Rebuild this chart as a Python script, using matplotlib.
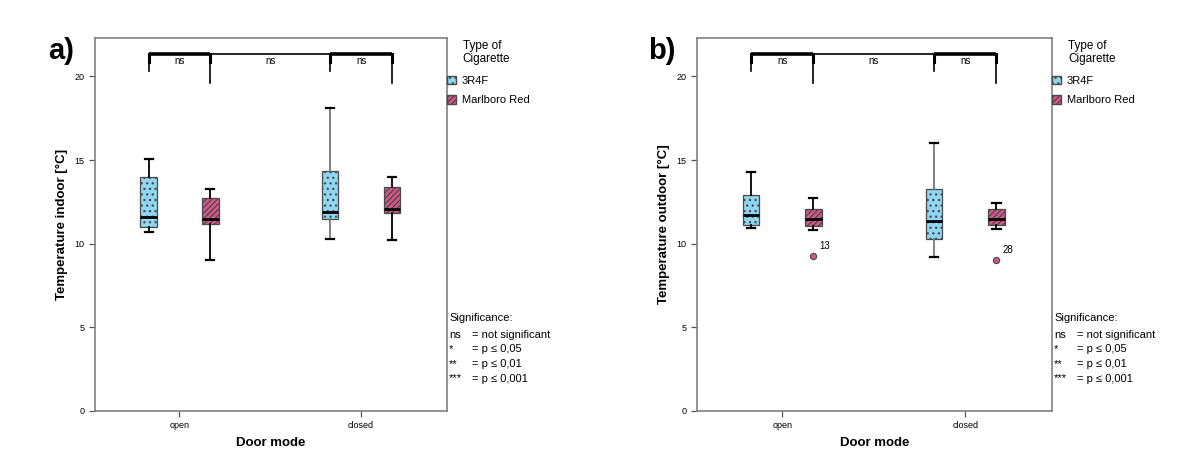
import matplotlib
matplotlib.use("Agg")
import matplotlib.pyplot as plt
from matplotlib.patches import Patch

plt.rcParams['font.family'] = ['Liberation Sans', 'DejaVu Sans']
plt.rcParams['hatch.linewidth'] = 0.9

categories = ["open", "closed"]
series = ["3R4F", "Marlboro Red"]

# [whislo, q1, median, q3, whishi] per series per category
indoor_3r4f = [[10.7, 11.0, 11.6, 14.0, 15.05], [10.3, 11.45, 11.9, 14.35, 18.1]]
indoor_marl = [[9.0, 11.2, 11.45, 12.75, 13.3], [10.2, 11.85, 12.1, 13.4, 14.0]]
outdoor_3r4f = [[10.95, 11.1, 11.7, 12.9, 14.3], [9.2, 10.3, 11.35, 13.3, 16.0]]
outdoor_marl = [[10.85, 11.05, 11.45, 12.05, 12.75], [10.9, 11.15, 11.45, 12.05, 12.45]]
outdoor_marl_outliers = [[9.25], [9.0]]
outdoor_marl_outlier_ids = [["13"], ["28"]]

sig_labels = ["ns", "ns", "ns"]
panel_labels = ["a)", "b)"]
ylabels = ["Temperature indoor [°C]", "Temperature outdoor [°C]"]
yticks = [0, 5, 10, 15, 20]

col_blue = "#8fd6f2"
col_pink = "#d6558a"
edge = "#4a4a4a"

fig = plt.figure(figsize=(12, 4.62), dpi=100)
axes = [fig.add_axes([0.0792, 0.1104, 0.2933, 0.8073]),
        fig.add_axes([0.5808, 0.1104, 0.2958, 0.8073])]

off = 0.17
bw = 0.09

def stats(vals, fl=None):
    lo, q1, med, q3, hi = vals
    return dict(whislo=lo, q1=q1, med=med, q3=q3, whishi=hi, fliers=fl or [])

datasets = [(indoor_3r4f, indoor_marl, None, None),
            (outdoor_3r4f, outdoor_marl, outdoor_marl_outliers, outdoor_marl_outlier_ids)]

for k, ax in enumerate(axes):
    b3, bm, outs, ids = datasets[k]
    for i, cat in enumerate(categories):
        for j, (vals, col, hatch) in enumerate([(b3[i], col_blue, '...'), (bm[i], col_pink, '//////')]):
            pos = i - off if j == 0 else i + off
            fl = outs[i] if (j == 1 and outs is not None) else []
            wcol = '#777777' if (i == 1 and j == 0) else 'black'
            ax.bxp([stats(vals, fl)], positions=[pos], widths=bw, patch_artist=True,
                   showfliers=True,
                   boxprops=dict(facecolor=col, edgecolor=edge, linewidth=0.9, hatch=hatch),
                   medianprops=dict(color='black', linewidth=2.0),
                   whiskerprops=dict(color=wcol, linewidth=1.3),
                   capprops=dict(color='black', linewidth=1.6),
                   flierprops=dict(marker='o', markerfacecolor=col_pink, markeredgecolor=edge,
                                   markersize=4.5, markeredgewidth=0.8))
            if j == 1 and outs is not None:
                for v, lab in zip(outs[i], ids[i]):
                    ax.text(pos + 0.035, v + 0.3, lab, fontsize=7, ha='left', va='bottom')
    ax.set_xlim(-0.465, 1.473)
    ax.set_ylim(0, 22.3)
    ax.set_xticks(range(len(categories)))
    ax.set_xticklabels(categories, fontsize=6.5)
    ax.set_yticks(yticks)
    ax.set_yticklabels([str(t) for t in yticks], fontsize=6.5)
    ax.tick_params(axis='both', direction='out', length=4, color='#555555', width=0.9)
    ax.tick_params(top=False, right=False)
    for s in ax.spines.values():
        s.set_color('#808080')
        s.set_linewidth(1.2)
    ax.set_xlabel("Door mode", fontsize=9.5, fontweight='bold', labelpad=5)
    ax.set_ylabel(ylabels[k], fontsize=9.5, fontweight='bold', labelpad=5)

    # significance brackets
    ytop = 21.35
    p = [-off, off, 1 - off, 1 + off]
    ax.plot([p[0], p[1]], [ytop, ytop], color='black', lw=2.6, solid_capstyle='butt')
    ax.plot([p[1], p[2]], [ytop, ytop], color='black', lw=1.2)
    ax.plot([p[2], p[3]], [ytop, ytop], color='black', lw=2.6, solid_capstyle='butt')
    for x, ylow in [(p[0], 20.35), (p[1], 19.6), (p[2], 20.35), (p[3], 19.6)]:
        ax.plot([x, x], [ylow, ytop], color='black', lw=1.2)
        ax.plot([x, x], [20.85, ytop], color='black', lw=2.2)
    for (xa, xb), lab in zip([(p[0], p[1]), (p[1], p[2]), (p[2], p[3])], sig_labels):
        ax.text((xa + xb) / 2, 20.9, lab, fontsize=7, ha='center', va='center')

    # legend
    ax.text(1.045, 0.96, "Type of\nCigarette", transform=ax.transAxes, fontsize=8.5,
            ha='left', va='center', linespacing=1.1)
    handles = [Patch(facecolor=col_blue, edgecolor=edge, hatch='...', label=series[0]),
               Patch(facecolor=col_pink, edgecolor=edge, hatch='//////', label=series[1])]
    ax.legend(handles=handles, loc='upper left', bbox_to_anchor=(0.995, 0.905),
              frameon=False, fontsize=8, handlelength=0.8, handleheight=0.8,
              handletextpad=0.5, borderaxespad=0.0, labelspacing=0.85, borderpad=0.2)

    # significance legend
    tx = 1.006
    ax.text(tx, 0.248, "Significance:", transform=ax.transAxes, fontsize=8, ha='left', va='center')
    rows = [("ns", "= not significant"), ("*", "= p ≤ 0,05"), ("**", "= p ≤ 0,01"), ("***", "= p ≤ 0,001")]
    for r, (a, b) in enumerate(rows):
        yy = 0.204 - r * 0.039
        ax.text(tx, yy, a, transform=ax.transAxes, fontsize=8, ha='left', va='center')
        ax.text(tx + 0.066, yy, b, transform=ax.transAxes, fontsize=8, ha='left', va='center')

    ax.text(-0.06, 0.965, panel_labels[k], transform=ax.transAxes, fontsize=21,
            fontweight='bold', ha='right', va='center')

fig.savefig("out.png", dpi=100)
